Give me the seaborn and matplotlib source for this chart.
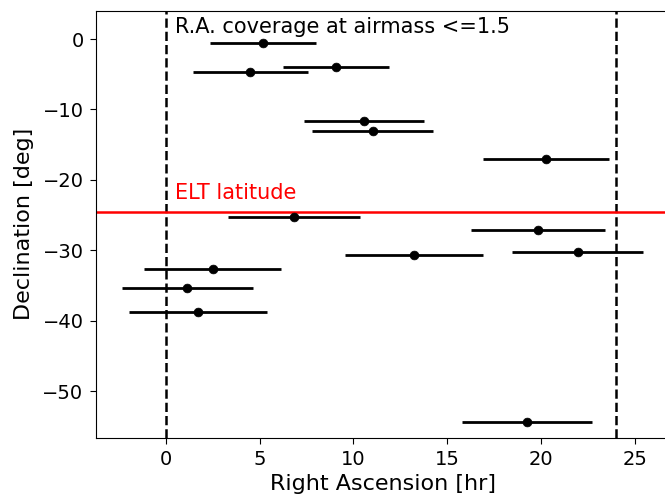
import matplotlib
matplotlib.use("Agg")
import matplotlib.pyplot as plt
import seaborn as sns
import numpy as np
import pandas as pd

# Data
ra = [5.17, 4.51, 9.05, 10.57, 11.03, 20.27, 6.83, 19.84, 13.24, 21.94, 2.50, 1.14, 1.71, 19.25]
dec = [-0.5, -4.7, -4.0, -11.6, -13.1, -17.0, -25.3, -27.1, -30.7, -30.3, -32.6, -35.4, -38.8, -54.4]
ra_halfwidth = [2.83, 3.08, 2.83, 3.19, 3.22, 3.37, 3.52, 3.59, 3.67, 3.48, 3.64, 3.48, 3.69, 3.47]
elt_latitude = -24.6

df = pd.DataFrame({"ra": ra, "dec": dec, "err": ra_halfwidth})

sns.set_style("ticks", {"axes.edgecolor": "black", "xtick.color": "black",
                        "ytick.color": "black", "text.color": "black",
                        "axes.labelcolor": "black"})
plt.rcParams["font.family"] = ["DejaVu Sans"]

fig = plt.figure(figsize=(6.65, 4.95), dpi=100)
ax = fig.add_axes([0.145, 0.116, 0.862, 0.862])

ax.errorbar(df["ra"], df["dec"], xerr=df["err"], fmt="none", ecolor="black", elinewidth=2)
sns.scatterplot(data=df, x="ra", y="dec", ax=ax, color="black", s=40, edgecolor="black", zorder=3)

ax.axvline(0, color="black", ls="--", lw=1.8)
ax.axvline(24, color="black", ls="--", lw=1.8)
ax.axhline(elt_latitude, color="red", lw=1.8)

ax.text(0.5, 0.9, "R.A. coverage at airmass <=1.5", fontsize=15)
ax.text(0.5, -22.7, "ELT latitude", color="red", fontsize=15)

ax.set_xlim(-3.7, 26.85)
ax.set_ylim(-56.6, 4.0)
ax.set_xticks([0, 5, 10, 15, 20, 25])
ax.set_yticks([0, -10, -20, -30, -40, -50])
ax.tick_params(labelsize=14, length=4.3, pad=5)
ax.set_xlabel("Right Ascension [hr]", fontsize=16, labelpad=3)
ax.set_ylabel("Declination [deg]", fontsize=16, labelpad=6)

fig.savefig("out.png", dpi=100)
